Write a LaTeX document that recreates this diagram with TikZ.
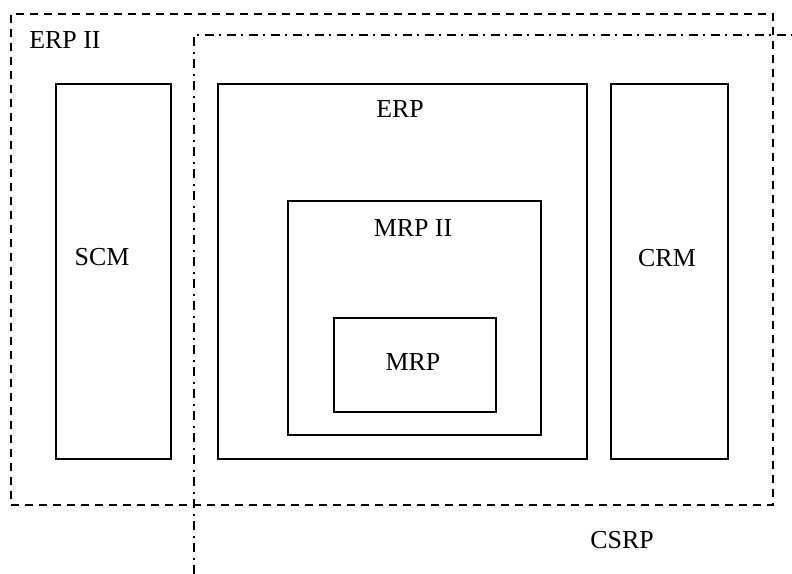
\documentclass[tikz,border=0pt]{standalone}
\usepackage{fontspec}
\setmainfont{Liberation Serif}
\usetikzlibrary{positioning}
\tikzset{
  box/.style={draw,line width=1.8bp,inner sep=0pt,anchor=north west},
  erpiiline/.style={draw,line width=1.8bp,dash pattern=on 8bp off 6bp},
  csrpline/.style={draw,line width=1.8bp,dash pattern=on 9bp off 5bp on 2bp off 6bp},
  lbl/.style={inner sep=0pt,font=\fontsize{26}{30}\selectfont,text height=17bp,text depth=0pt}
}

\begin{document}
\begin{tikzpicture}[x=1bp,y=-1bp]
  \useasboundingbox (0,0) rectangle (792,574);
  % outer scopes
  \node[erpiiline,inner sep=0pt,anchor=north west,minimum width=762bp,minimum height=491bp] (erpii) at (10,13) {};
  \coordinate (csrpcorner) at (194,35);
  \draw[csrpline] (194,574) -- (csrpcorner) -- (792,35);
  % modules
  \node[box,minimum width=115bp,minimum height=375bp] (scm) at (55,83) {};
  \node[box,minimum width=369bp,minimum height=375bp] (erp) at (217,83) {};
  \node[box,minimum width=117bp,minimum height=375bp] (crm) at (610,83) {};
  \node[box,minimum width=253bp,minimum height=234bp] (mrpii) at (287,200) {};
  \node[box,minimum width=162bp,minimum height=94bp] (mrp) at (333,317) {};
  % labels
  \node[lbl] (erpiitext) at (65,40) {ERP II};
  \node[lbl] (scmtext) at (102,257) {SCM};
  \node[lbl] (erptext) at (400,109) {ERP};
  \node[lbl] (mrpiitext) at (413,228) {MRP II};
  \node[lbl] (mrptext) at (413,362) {MRP};
  \node[lbl] (crmtext) at (667,258) {CRM};
  \node[lbl] (csrptext) at (622,540) {CSRP};
\end{tikzpicture}
\end{document}
